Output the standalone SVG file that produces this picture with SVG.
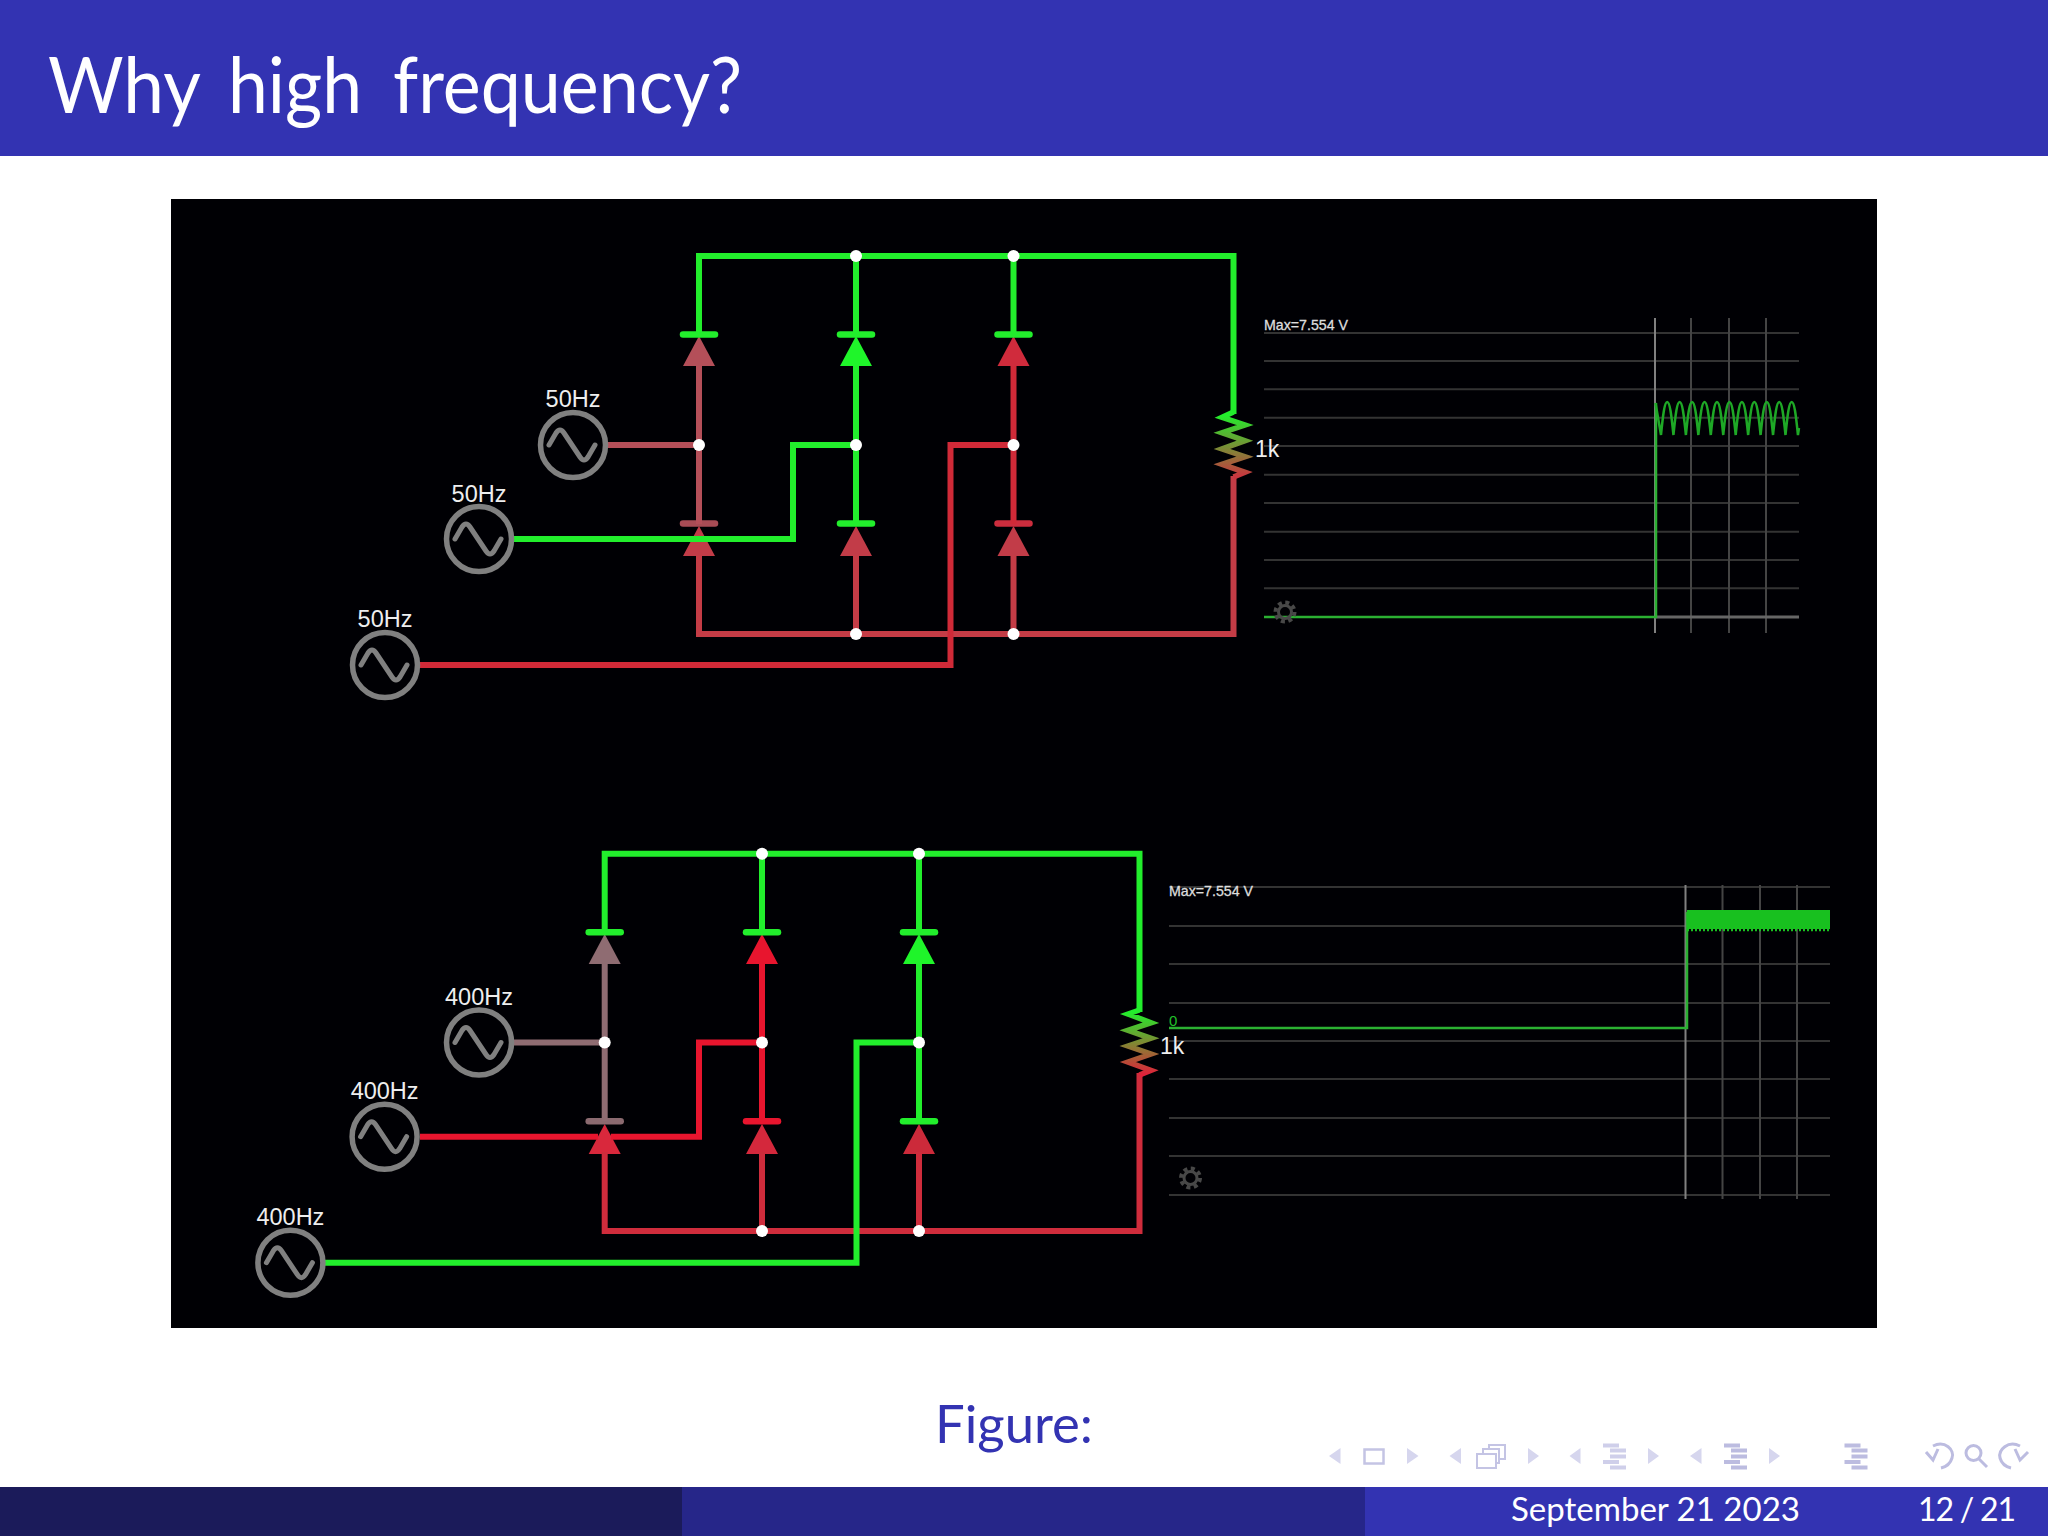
<svg xmlns="http://www.w3.org/2000/svg" width="2048" height="1536" viewBox="0 0 2048 1536">
<defs>
<style>
.w{fill:none;stroke-width:6;stroke-linejoin:miter}
.g{stroke:#22ee2c}
.bar{stroke-width:6.5;stroke-linecap:round}
.src circle{fill:none;stroke:#808080;stroke-width:5.5}
.lbl{font-family:"Liberation Sans",Arial,sans-serif;font-size:23.5px;fill:#eee;text-anchor:middle}
.k{font-family:"Liberation Sans",Arial,sans-serif;font-size:23px;fill:#eee}
.max{font-family:"Liberation Sans",Arial,sans-serif;font-size:14.2px;fill:#ddd;stroke:#ddd;stroke-width:.3}
.gl{stroke:#333;stroke-width:2;fill:none}
.vl{stroke:#444;stroke-width:2;fill:none}
.vm{stroke:#808080;stroke-width:2;fill:none}
.tr{stroke:#1ea826;stroke-width:2.5;fill:none}
.dot{fill:#fff}
.res{fill:none;stroke-width:5.5;stroke-miterlimit:10}
.nav{fill:#d6d6ee}
.navl{fill:none;stroke:#bcbce0;stroke-width:3}
.ui{font-family:"Lato","Noto Sans",sans-serif}
</style>
<linearGradient id="r1" gradientUnits="userSpaceOnUse" x1="0" y1="415" x2="0" y2="476"><stop offset="0" stop-color="#22ee2c"/><stop offset="1" stop-color="#c8373f"/></linearGradient>
<linearGradient id="r2" gradientUnits="userSpaceOnUse" x1="0" y1="1012" x2="0" y2="1075"><stop offset="0" stop-color="#22ee2c"/><stop offset="1" stop-color="#e0203a"/></linearGradient>
<path id="sine" d="M-24,0 L-17,-12 Q-13,-18 -9,-12 L7,12 Q11,18 15,12 L22,0" fill="none" stroke="#808080" stroke-width="5" stroke-linecap="round" stroke-linejoin="round"/>
<polygon id="tri" points="0,2 16,32 -16,32"/>
<line id="barl" x1="-16" x2="16" y1="0" y2="0"/>
<g id="gearg" fill="none" stroke="#484848"><circle r="6.500" stroke-width="3"/><circle r="9.500" stroke-width="4" stroke-dasharray="4 3.46"/></g>
<g id="lines"><rect x="0" y="0" width="16" height="4"/><rect x="7" y="5" width="16" height="4"/><rect x="7" y="11" width="16" height="4"/><rect x="0" y="16.500" width="16" height="4"/><rect x="7" y="22" width="16" height="4"/></g>
</defs>

<rect id="page" width="2048" height="1536" fill="#ffffff"/>
<g id="header"><rect width="2048" height="156" fill="#3333b2"/>
<text class="ui" y="113" font-size="78" fill="#fff"><tspan x="48" textLength="151" lengthAdjust="spacingAndGlyphs">Why</tspan> <tspan x="228" textLength="134" lengthAdjust="spacingAndGlyphs">high</tspan> <tspan x="393" textLength="349" lengthAdjust="spacingAndGlyphs">frequency?</tspan></text></g>
<rect id="figure-bg" x="171" y="199" width="1706" height="1129" fill="#000004"/>

<g id="scope-top">
<path class="gl" d="M1264,333H1799M1264,361H1799M1264,389.300H1799M1264,417.700H1799M1264,446H1799M1264,474.700H1799M1264,503H1799M1264,531.700H1799M1264,560H1799M1264,588.300H1799"/>
<path class="vl" d="M1691,318V633M1729,318V633M1766,318V633"/>
<path class="vm" d="M1655,318V633"/>
<path d="M1655,617H1799" stroke="#666" stroke-width="3" fill="none"/>
<path d="M1264,617H1656V403" stroke="#2bb032" stroke-width="2.500" fill="none"/>
<path class="tr" d="M1655.500,403 L1661,435 c2,-20 3.500,-33 6.200,-33 c2.700,0 4.200,13 6.250,33 c2,-20 3.500,-33 6.200,-33 c2.700,0 4.200,13 6.250,33 c2,-20 3.500,-33 6.200,-33 c2.700,0 4.200,13 6.250,33 c2,-20 3.500,-33 6.200,-33 c2.700,0 4.200,13 6.250,33 c2,-20 3.500,-33 6.200,-33 c2.700,0 4.200,13 6.250,33 c2,-20 3.500,-33 6.200,-33 c2.700,0 4.200,13 6.250,33 c2,-20 3.500,-33 6.200,-33 c2.700,0 4.200,13 6.250,33 c2,-20 3.500,-33 6.200,-33 c2.700,0 4.200,13 6.250,33 c2,-20 3.500,-33 6.200,-33 c2.700,0 4.200,13 6.250,33 c2,-20 3.500,-33 6.200,-33 c2.700,0 4.200,13 6.250,33 c2,-20 3.500,-33 6.200,-33 c2.700,0 4.200,13 6.250,33 L1799,428"/>
<text class="max" x="1264" y="330">Max=7.554 V</text>
<use href="#gearg" x="1285" y="612"/>
</g>

<g id="scope-bottom">
<path class="gl" d="M1169,887H1830M1169,926H1830M1169,964H1830M1169,1003H1830M1169,1041H1830M1169,1079H1830M1169,1118H1830M1169,1156H1830M1169,1195H1830"/>
<path class="vl" d="M1722.500,885V1199M1760,885V1199M1797,885V1199"/>
<path class="vm" d="M1685.500,885V1199"/>
<path d="M1169,1028H1687V912" stroke="#2bb032" stroke-width="2.500" fill="none"/>
<rect x="1687" y="910" width="143" height="19" fill="#18c01f"/>
<path d="M1687,930H1830" stroke="#18c01f" stroke-width="2.500" stroke-dasharray="2 2" fill="none"/>
<text x="1169" y="1025.700" font-family="Liberation Sans,Arial,sans-serif" font-size="15" fill="#22c02a">0</text>
<text class="max" x="1169" y="896">Max=7.554 V</text>
<use href="#gearg" x="1190.500" y="1178"/>
</g>

<g id="d-t1"><use href="#tri" x="699" y="334" fill="#b44f59"/><use href="#barl" x="699" y="334.500" class="bar" stroke="#22ee2c"/></g>
<g id="d-t2"><use href="#tri" x="856" y="334" fill="#1ff52a"/><use href="#barl" x="856" y="334.500" class="bar" stroke="#22ee2c"/></g>
<g id="d-t3"><use href="#tri" x="1013.500" y="334" fill="#d02b3c"/><use href="#barl" x="1013.500" y="334.500" class="bar" stroke="#22ee2c"/></g>
<g id="d-t4"><use href="#tri" x="699" y="524" fill="#c23c48"/><use href="#barl" x="699" y="523.500" class="bar" stroke="#a84c55"/></g>
<g id="d-t5"><use href="#tri" x="856" y="524" fill="#c23c48"/><use href="#barl" x="856" y="523.500" class="bar" stroke="#22ee2c"/></g>
<g id="d-t6"><use href="#tri" x="1013.500" y="524" fill="#c23c48"/><use href="#barl" x="1013.500" y="523.500" class="bar" stroke="#cc2d3e"/></g>

<g id="d-b1"><use href="#tri" x="604.700" y="932" fill="#8f6c72"/><use href="#barl" x="604.700" y="932.300" class="bar" stroke="#22ee2c"/></g>
<g id="d-b2"><use href="#tri" x="762" y="932" fill="#e8152e"/><use href="#barl" x="762" y="932.300" class="bar" stroke="#22ee2c"/></g>
<g id="d-b3"><use href="#tri" x="919" y="932" fill="#1ff52a"/><use href="#barl" x="919" y="932.300" class="bar" stroke="#22ee2c"/></g>
<g id="d-b4"><use href="#tri" x="604.700" y="1122" fill="#d9283c"/><use href="#barl" x="604.700" y="1121.300" class="bar" stroke="#8b6a70"/></g>
<g id="d-b5"><use href="#tri" x="762" y="1122" fill="#d4283c"/><use href="#barl" x="762" y="1121.300" class="bar" stroke="#e8152e"/></g>
<g id="d-b6"><use href="#tri" x="919" y="1122" fill="#cc2a3a"/><use href="#barl" x="919" y="1121.300" class="bar" stroke="#22ee2c"/></g>

<g id="connectors">
<path class="w g" d="M699,335V256H1233.500V414M856,256V335M1013.500,256V335M856,366V524"/>
<path class="w" stroke="#b44f59" d="M608,445H699M699,366V524"/>
<path class="w" stroke="#c43c46" d="M699,555V634H1233.500V476M856,555V634M1013.500,555V634"/>
<path class="w" stroke="#d02a38" d="M420,665H950.500V445H1013.500M1013.500,366V524"/>
<path class="w g" d="M514,539H793V445H856"/>

<path class="w" stroke="#cf2c3c" d="M604.700,1152V1231H1139.500V1073M762,1152V1231M919,1152V1231"/>
<path class="w g" d="M604.700,932V853.700H1139.500V1012M762,853.700V932M919,853.700V932M919,964V1121"/>
<path class="w" stroke="#8f6c72" d="M514,1042.500H604.700M604.700,964V1121"/>
<path class="w" stroke="#e8152e" d="M420,1136.700H598M611,1136.700H699V1042.500H762M762,964V1121"/>
<path class="w g" d="M325,1262.700H856.500V1042.500H919"/>
</g>

<g id="res-top"><polyline class="res" points="1233.500,412 1222,417.300 1245,425 1222,432.700 1245,440.700 1222,449 1245,456.700 1222,464.300 1245,472.300 1233.500,477" stroke="url(#r1)"/><text class="k" x="1255" y="456.700">1k</text></g>
<g id="res-bottom"><polyline class="res" points="1139.500,1010 1128,1014 1151,1022.700 1128,1030.300 1151,1038.300 1128,1046 1151,1054 1128,1062 1151,1070.300 1139.500,1075" stroke="url(#r2)"/><text class="k" x="1160" y="1053.700">1k</text></g>

<g id="src-t1" class="src" transform="translate(573,445)"><circle r="32.500"/><use href="#sine"/><text class="lbl" y="-38">50Hz</text></g>
<g id="src-t2" class="src" transform="translate(479,539)"><circle r="32.500"/><use href="#sine"/><text class="lbl" y="-37">50Hz</text></g>
<g id="src-t3" class="src" transform="translate(385,665)"><circle r="32.500"/><use href="#sine"/><text class="lbl" y="-38">50Hz</text></g>
<g id="src-b1" class="src" transform="translate(479,1042.500)"><circle r="32.500"/><use href="#sine"/><text class="lbl" y="-37.500">400Hz</text></g>
<g id="src-b2" class="src" transform="translate(384.600,1136.700)"><circle r="32.500"/><use href="#sine"/><text class="lbl" y="-38">400Hz</text></g>
<g id="src-b3" class="src" transform="translate(290.400,1262.700)"><circle r="32.500"/><use href="#sine"/><text class="lbl" y="-37.700">400Hz</text></g>

<g id="junctions" class="dot">
<circle cx="856" cy="256" r="6"/><circle cx="1013.500" cy="256" r="6"/><circle cx="699" cy="445" r="6"/><circle cx="856" cy="445" r="6"/><circle cx="1013.500" cy="445" r="6"/><circle cx="856" cy="634" r="6"/><circle cx="1013.500" cy="634" r="6"/>
<circle cx="762" cy="853.700" r="6"/><circle cx="919" cy="853.700" r="6"/><circle cx="604.700" cy="1042.500" r="6"/><circle cx="762" cy="1042.500" r="6"/><circle cx="919" cy="1042.500" r="6"/><circle cx="762" cy="1231" r="6"/><circle cx="919" cy="1231" r="6"/>
</g>

<text id="caption" class="ui" x="935" y="1443" font-size="52" fill="#3333b2" textLength="158" lengthAdjust="spacingAndGlyphs">Figure:</text>

<g id="nav">
<polygon class="nav" points="1340.500,1448 1340.500,1464 1329,1456"/><rect x="1364.500" y="1449.500" width="19" height="14" fill="none" stroke="#c4c4e4" stroke-width="2.500"/><polygon class="nav" points="1407,1448 1407,1464 1418.500,1456"/>
<polygon class="nav" points="1461,1448 1461,1464 1449.500,1456"/><g fill="#fff" stroke="#c4c4e4" stroke-width="2"><rect x="1489" y="1445" width="16" height="14"/><rect x="1483" y="1449" width="16" height="14"/><rect x="1477" y="1454" width="19" height="14"/></g><polygon class="nav" points="1528,1448 1528,1464 1539,1456"/>
<polygon class="nav" points="1580.500,1448 1580.500,1464 1569.500,1456"/><use href="#lines" x="1603" y="1443.500" fill="#cfcfea"/><polygon class="nav" points="1648,1448 1648,1464 1659,1456"/>
<polygon class="nav" points="1701.500,1448 1701.500,1464 1690,1456"/><use href="#lines" x="1724" y="1443.500" fill="#bcbce0"/><polygon class="nav" points="1769,1448 1769,1464 1780,1456"/>
<use href="#lines" x="1844.500" y="1443.500" fill="#bcbce0"/>
<path class="navl" d="M1933,1446 C1945,1440 1955,1450 1952,1458 C1950,1465 1945,1467 1941,1468M1926,1452 L1933,1460 L1938,1449"/>
<circle class="navl" cx="1973.500" cy="1453" r="7.500"/><path class="navl" d="M1979,1459 L1987,1467" stroke-width="4"/>
<path class="navl" d="M2020,1446 C2008,1440 1998,1450 2000,1458 C2002,1465 2007,1467 2011,1468M2028,1452 L2020,1460 L2015,1449"/>
</g>

<g id="footer">
<rect y="1487" width="682" height="49" fill="#1b1b5a"/>
<rect x="682" y="1487" width="683" height="49" fill="#262689"/>
<rect x="1365" y="1487" width="683" height="49" fill="#3333b2"/>
<text class="ui" x="1511" y="1520.500" font-size="32" fill="#fff" textLength="289" lengthAdjust="spacingAndGlyphs">September 21 2023</text>
<text class="ui" x="1918" y="1520.500" font-size="32" fill="#fff" textLength="98" lengthAdjust="spacing">12 / 21</text>
</g>
</svg>
